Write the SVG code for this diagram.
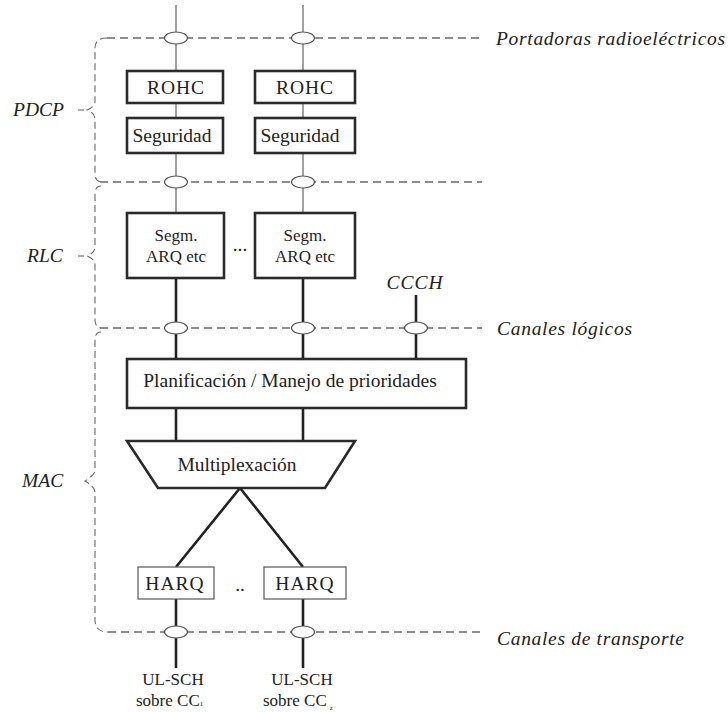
<svg xmlns="http://www.w3.org/2000/svg" width="728" height="712" viewBox="0 0 728 712">
<style>
.dash{fill:none;stroke:#6a6a6a;stroke-width:1.3;stroke-dasharray:8 5}
.brace{fill:none;stroke:#6a6a6a;stroke-width:1.1;stroke-dasharray:7 4}
.thin{stroke:#555;stroke-width:1.1;fill:none}
.thick{stroke:#222;stroke-width:2.6;fill:none}
.box{fill:#fff;stroke:#2a2a2a;stroke-width:2.6}
.lbox{fill:#fff;stroke:#555;stroke-width:1.2}
.ell{fill:#fff;stroke:#555;stroke-width:1.2}
.t{font-family:"Liberation Serif","Times New Roman",serif;font-size:19.5px;fill:#222;text-anchor:middle}
.s{font-size:17px}
.it{font-family:"Liberation Serif","Times New Roman",serif;font-size:19.5px;font-style:italic;fill:#222}
</style>
<rect width="728" height="712" fill="#fff"/>
<g id="layers">
<path class="dash" d="M107,38 H482"/>
<path class="dash" d="M100,182 H482"/>
<path class="dash" d="M100,328 H482"/>
<path class="dash" d="M108,632 H482"/>
<path class="brace" d="M107,38 Q95,38 95,48 V101 Q95,107 87,110 Q95,113 95,119 V174 Q95,181 101,182"/>
<path class="brace" d="M78,110 H84"/>
<path class="brace" d="M101,186 Q95,186 95,194 V247 Q95,253 87,256 Q95,259 95,265 V320 Q95,327 101,328"/>
<path class="brace" d="M78,256 H84"/>
<path class="brace" d="M101,332 Q95,332 95,340 V470 Q95,475 85,481 Q95,487 95,492 V620 Q95,632 108,632"/>
<text class="it" x="13" y="116">PDCP</text>
<text class="it" x="27" y="262">RLC</text>
<text class="it" x="22" y="487">MAC</text>
<text class="it" x="496" y="45" textLength="229" lengthAdjust="spacing">Portadoras radioeléctricos</text>
<text class="it" x="497" y="335" textLength="135" lengthAdjust="spacing">Canales lógicos</text>
<text class="it" x="497" y="645" textLength="187" lengthAdjust="spacing">Canales de transporte</text>
</g>
<g id="connectors">
<path class="thin" d="M176,5 V71 M303,5 V71 M176,103 V118 M303,103 V118 M176,153 V213 M303,153 V213"/>
<path class="thick" d="M176,278 V359 M303,278 V359 M416,295 V359 M176,408 V441 M303,408 V441 M240,488 L176,567 M240,488 L303,567 M176,599 V668 M303,599 V668"/>
</g>
<g id="ellipses">
<ellipse class="ell" cx="176" cy="38" rx="11.5" ry="6"/>
<ellipse class="ell" cx="303" cy="38" rx="11.5" ry="6"/>
<ellipse class="ell" cx="176" cy="182" rx="11.5" ry="6"/>
<ellipse class="ell" cx="303" cy="182" rx="11.5" ry="6"/>
<ellipse class="ell" cx="176" cy="328" rx="11.5" ry="6"/>
<ellipse class="ell" cx="303" cy="328" rx="11.5" ry="6"/>
<ellipse class="ell" cx="416" cy="328" rx="11.5" ry="6"/>
<ellipse class="ell" cx="176" cy="632" rx="11.5" ry="6"/>
<ellipse class="ell" cx="303" cy="632" rx="11.5" ry="6"/>
</g>
<g id="rohc1"><rect class="box" x="127" y="71" width="96" height="32"/><text class="t" x="176" y="94" letter-spacing="1">ROHC</text></g>
<g id="rohc2"><rect class="box" x="255" y="71" width="100" height="32"/><text class="t" x="305" y="94" letter-spacing="1">ROHC</text></g>
<g id="seg1"><rect class="box" x="127" y="118" width="96" height="35"/><text class="t" x="172" y="142">Seguridad</text></g>
<g id="seg2"><rect class="box" x="255" y="118" width="100" height="35"/><text class="t" x="300" y="142">Seguridad</text></g>
<g id="rlc1"><rect class="box" x="127" y="213" width="97" height="65"/><text class="t s" x="176" y="241">Segm.</text><text class="t s" x="176" y="262">ARQ etc</text></g>
<text class="t" x="240" y="251" font-size="14">...</text>
<g id="rlc2"><rect class="box" x="255" y="213" width="100" height="65"/><text class="t s" x="305" y="241">Segm.</text><text class="t s" x="305" y="262">ARQ etc</text></g>
<g id="ccch"><text class="it" x="415" y="289" text-anchor="middle" letter-spacing="1">CCCH</text></g>
<g id="sched"><rect class="box" x="127" y="359" width="339" height="49"/><text class="t" x="290" y="387">Planificación / Manejo de prioridades</text></g>
<g id="mux"><polygon class="box" points="127,441 355,441 325,488 158,488"/><text class="t" x="237" y="471">Multiplexación</text></g>
<g id="harq1"><rect class="lbox" x="138" y="567" width="76" height="32"/><text class="t" x="175" y="590" letter-spacing="1">HARQ</text></g>
<text class="t" x="240" y="591" font-size="12" fill="#555">..</text>
<g id="harq2"><rect class="lbox" x="264" y="567" width="82" height="32"/><text class="t" x="305" y="590" letter-spacing="1">HARQ</text></g>
<g id="ulsch1"><text class="t s" x="173" y="685">UL-SCH</text><text class="t s" x="136" y="706" style="text-anchor:start">sobre CC<tspan font-size="7">1</tspan></text></g>
<g id="ulsch2"><text class="t s" x="302" y="685">UL-SCH</text><text class="t s" x="263" y="706" style="text-anchor:start">sobre CC<tspan font-size="7" dx="3" dy="4">z</tspan></text></g>
</svg>
